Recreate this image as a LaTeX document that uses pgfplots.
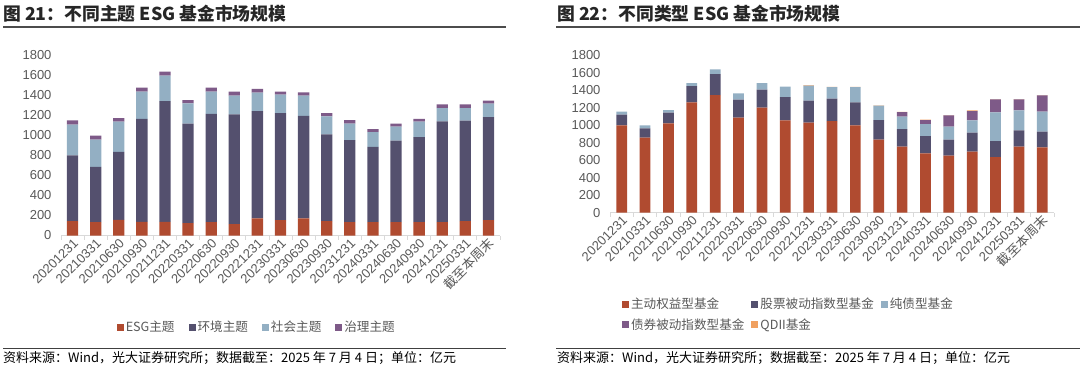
\documentclass[border=0pt]{standalone}
\usepackage{pgfplots}
\usepackage{pgfplotstable}
\pgfplotsset{compat=1.18}
\usepackage{fontspec}
\setmainfont{Liberation Sans}
\newfontfamily\cjk{Noto Sans CJK SC}
\definecolor{cA}{HTML}{B04B30}
\definecolor{cB}{HTML}{54506E}
\definecolor{cC}{HTML}{93AFC3}
\definecolor{cD}{HTML}{7E5A88}
\definecolor{cE}{HTML}{F0A060}
\definecolor{txt}{HTML}{595959}
\definecolor{axl}{HTML}{D9D9D9}

\pgfplotstableread{
x esg env soc gov
0 143 655 307 43
1 133 552 270 40
2 156 679 300 36
3 136 1028 270 40
4 136 1205 253 40
5 123 992 202 34
6 133 1081 220 40
7 113 1095 186 40
8 170 1071 183 37
9 153 1068 183 30
10 170 1024 200 33
11 143 865 180 33
12 133 819 163 36
13 133 752 146 30
14 133 812 140 30
15 133 848 154 29
16 133 1005 133 36
17 143 1002 126 36
18 153 1028 133 30
}\tabL

\pgfplotstableread{
x act sp bond bp qd
0 997 122 34 0 0
1 856 107 34 0 0
2 1020 121 31 0 0
3 1259 187 34 0 0
4 1343 240 53 0 0
5 1084 206 72 0 0
6 1199 205 76 0 0
7 1054 266 118 0 0
8 1027 251 172 0 5
9 1046 255 133 0 3
10 997 262 175 0 3
11 833 225 163 0 5
12 753 202 141 53 3
13 677 198 137 46 3
14 651 182 149 129 3
15 696 217 141 106 8
16 635 183 327 149 3
17 753 187 228 126 3
18 746 179 228 186 3
}\tabR

\pgfplotsset{
  mybar/.style={
    scale only axis, anchor=south west,
    ybar stacked, enlargelimits=false,
    xmin=-0.5, xmax=18.5, ymin=0, ymax=1800,
    ytick={0,200,...,1800},
    xtick={0,...,18},
    xticklabels={20201231,20210331,20210630,20210930,20211231,20220331,20220630,20220930,20221231,20230331,20230630,20230930,20231231,20240331,20240630,20240930,20241231,20250331,{\cjk 截至本周末}},
    minor xtick={-0.5,0.5,...,18.5},
    axis lines*=left,
    y axis line style={draw=none},
    x axis line style={draw=axl, line width=1pt},
    tick align=outside,
    major tick length=0pt,
    minor tick length=4pt,
    minor x tick style={draw=axl, line width=0.8pt},
    major y tick style={draw=none},
    /pgf/number format/1000 sep={},
    /pgf/number format/assume math mode=true,
    tick label style={font=\fontsize{13}{13}\selectfont, text=txt},
    yticklabel style={xshift=-6pt},
    xticklabel style={rotate=45, anchor=east, xshift=2pt, yshift=-6pt},
    legend image code/.code={\fill[##1] (0pt,-3.5pt) rectangle (7pt,3.5pt);},
    legend style={draw=none, fill=none, font=\cjk\fontsize{12.6}{14}\selectfont, text=txt},
    legend cell align=left,
  }
}

\begin{document}
\begin{tikzpicture}
\path[use as bounding box] (0pt,0pt) rectangle (1080pt,368pt);

% titles and rules
\node[anchor=base west, inner sep=0, font=\cjk\bfseries\fontsize{17.8}{20}\selectfont, text=black!85] at (3pt,348pt) {图 21：不同主题 ESG 基金市场规模};
\draw[line width=2pt, black!70] (3pt,341pt) -- (506pt,341pt);
\node[anchor=base west, inner sep=0, font=\cjk\bfseries\fontsize{17.8}{20}\selectfont, text=black!85] at (557pt,348pt) {图 22：不同类型 ESG 基金市场规模};
\draw[line width=2pt, black!70] (556pt,341pt) -- (1080pt,341pt);

\draw[line width=1pt, black!75] (3pt,20pt) -- (506pt,20pt);
\draw[line width=1pt, black!75] (556pt,20pt) -- (1080pt,20pt);
\node[anchor=base west, inner sep=0, font=\cjk\fontsize{13}{15}\selectfont, text=black] at (3pt,6pt) {资料来源：Wind，光大证券研究所；数据截至：2025 年 7 月 4 日；单位：亿元};
\node[anchor=base west, inner sep=0, font=\cjk\fontsize{13}{15}\selectfont, text=black] at (557pt,6pt) {资料来源：Wind，光大证券研究所；数据截至：2025 年 7 月 4 日；单位：亿元};

% left chart
\begin{axis}[mybar, at={(61pt,132.5pt)}, width=439pt, height=180.5pt, bar width=11.3pt,
  legend columns=4,
  legend style={at={(axis description cs:0.446,-0.507)}, anchor=center,
    /tikz/every even column/.append style={column sep=12pt}}]
\addplot[fill=cA, draw=none] table[x=x, y=esg] {\tabL};
\addplot[fill=cB, draw=none] table[x=x, y=env] {\tabL};
\addplot[fill=cC, draw=none] table[x=x, y=soc] {\tabL};
\addplot[fill=cD, draw=none] table[x=x, y=gov] {\tabL};
\legend{ESG主题,环境主题,社会主题,治理主题}
\end{axis}

% right chart
\begin{axis}[mybar, at={(610pt,155.3pt)}, width=444pt, height=157.7pt, bar width=10.7pt,
  legend columns=3,
  legend style={at={(axis description cs:0.02,-0.515)}, anchor=north west, row sep=4.5pt,
    /tikz/every even column/.append style={column sep=5pt}}]
\addplot[fill=cA, draw=none] table[x=x, y=act] {\tabR};
\addplot[fill=cB, draw=none] table[x=x, y=sp] {\tabR};
\addplot[fill=cC, draw=none] table[x=x, y=bond] {\tabR};
\addplot[fill=cD, draw=none] table[x=x, y=bp] {\tabR};
\addplot[fill=cE, draw=none] table[x=x, y=qd] {\tabR};
\legend{主动权益型基金,股票被动指数型基金,纯债型基金,债券被动指数型基金,QDII基金}
\end{axis}
\end{tikzpicture}
\end{document}
